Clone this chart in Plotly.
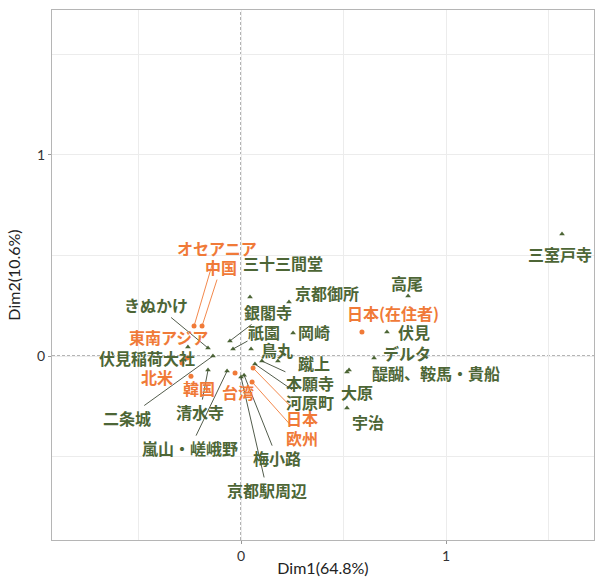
import plotly.graph_objects as go

# ---- data ----
place_names = ["三室戸寺", "高尾", "伏見", "デルタ", "醍醐、鞍馬・貴船", "大原", "宇治",
               "京都御所", "岡崎", "三十三間堂", "銀閣寺", "祇園", "鳥丸", "本願寺", "蹴上",
               "河原町", "きぬかけ", "二条城", "伏見稲荷大社", "清水寺", "嵐山・嵯峨野",
               "京都駅周辺", "梅小路"]
place_dim1 = [1.566, 0.815, 0.712, 0.649, 0.527, 0.517, 0.517,
              0.234, 0.254, 0.044, -0.054, -0.039, 0.049, 0.102, 0.180,
              0.068, -0.161, -0.137, -0.259, -0.161, -0.068,
              0.000, 0.015]
place_dim2 = [0.607, 0.299, 0.119, -0.010, -0.070, -0.080, -0.259,
              0.269, 0.114, 0.294, 0.075, 0.035, 0.035, -0.025, -0.025,
              -0.040, 0.040, 0.000, 0.045, -0.070, -0.075,
              -0.104, -0.095]

origin_names = ["日本(在住者)", "日本", "欧州", "台湾", "韓国", "北米", "東南アジア", "中国", "オセアニア"]
origin_dim1 = [0.590, 0.059, 0.054, -0.029, -0.244, -0.288, -0.263, -0.190, -0.229]
origin_dim2 = [0.119, -0.060, -0.129, -0.085, -0.100, -0.035, -0.010, 0.149, 0.149]

x_ticks = [0, 1]
y_ticks = [0, 1]
x_title = "Dim1(64.8%)"
y_title = "Dim2(10.6%)"

# ---- label placement (pixel offsets from the point, and whether a segment is drawn) ----
place_offsets = [(-2, 20, False), (-1, -13, False), (27, 0, False), (33, -5, False), (87, 3, False),
                 (10, 20, False), (21, 14, False), (38, -9, False), (21, -1, False), (33, -34, False),
                 (38, -29, True), (31, -17, True), (26, 1, False), (48, 22, True), (36, 2, False),
                 (55, 38, True), (-52, -43, True), (-86, 62, True), (-41, 11, False), (-8, 42, True),
                 (-37, 77, True), (26, 113, True), (33, 83, True)]
origin_offsets = [(31, -19, False), (49, 50, True), (50, 56, True), (3, 19, False), (8, 12, False),
                  (-25, 14, False), (-19, -21, False), (19, -59, True), (23, -78, True)]

GREEN = "#4d6636"
GREEN_LINE = "#3e4a38"
ORANGE = "#f07a38"
LABEL_FONT = "Noto Sans CJK JP"

fig = go.Figure()
fig.add_trace(go.Scatter(x=place_dim1, y=place_dim2, mode="markers",
                         marker=dict(symbol="triangle-up", size=5, color=GREEN),
                         hovertext=place_names, showlegend=False))
fig.add_trace(go.Scatter(x=origin_dim1, y=origin_dim2, mode="markers",
                         marker=dict(symbol="circle", size=5, color=ORANGE),
                         hovertext=origin_names, showlegend=False))

annotations = []
def add_labels(names, xs, ys, offsets, color, line_color):
    for n, x, y, (ax, ay, seg) in zip(names, xs, ys, offsets):
        annotations.append(dict(
            x=x, y=y, xref="x", yref="y", text=n, showarrow=True,
            ax=ax, ay=ay, arrowhead=0, arrowwidth=0.9, standoff=0, startstandoff=0,
            arrowcolor=line_color if seg else "rgba(0,0,0,0)",
            font=dict(family=LABEL_FONT, size=16, color=color, weight="bold"),
            borderpad=0))

add_labels(place_names, place_dim1, place_dim2, place_offsets, GREEN, GREEN_LINE)
add_labels(origin_names, origin_dim1, origin_dim2, origin_offsets, ORANGE, ORANGE)

grid_col = "#ececec"
axis_common = dict(showline=True, mirror=True, linecolor="#b5b5b5", linewidth=1,
                   ticks="outside", ticklen=3, tickcolor="#999999",
                   showgrid=True, gridcolor=grid_col, gridwidth=1,
                   minor=dict(dtick=0.5, tick0=0, showgrid=True, gridcolor=grid_col, ticks=""),
                   zeroline=False, automargin=False,
                   tickfont=dict(family="Lato", size=14, color="#333333"),
                   title_font=dict(family="Lato", size=16, color="#222222"))

fig.update_xaxes(range=[-0.922, 1.722], tickvals=x_ticks, title_text=x_title,
                 title_standoff=2, **axis_common)
fig.update_yaxes(range=[-0.915, 1.721], tickvals=y_ticks, title_text=y_title,
                 title_standoff=12, **axis_common)

fig.update_layout(
    width=596, height=577,
    margin=dict(l=52, r=2, t=10, b=37),
    plot_bgcolor="white", paper_bgcolor="white",
    annotations=annotations,
    shapes=[
        dict(type="line", xref="x", yref="paper", x0=0, x1=0, y0=0, y1=1,
             line=dict(color="#555555", width=0.9, dash="3px,2px"), layer="below"),
        dict(type="line", xref="paper", yref="y", x0=0, x1=1, y0=0, y1=0,
             line=dict(color="#555555", width=0.9, dash="3px,2px"), layer="below"),
    ],
)

fig.write_html("out.html", config={"displayModeBar": False},
               post_script="document.body.style.margin='0';document.body.style.overflow='hidden';")
